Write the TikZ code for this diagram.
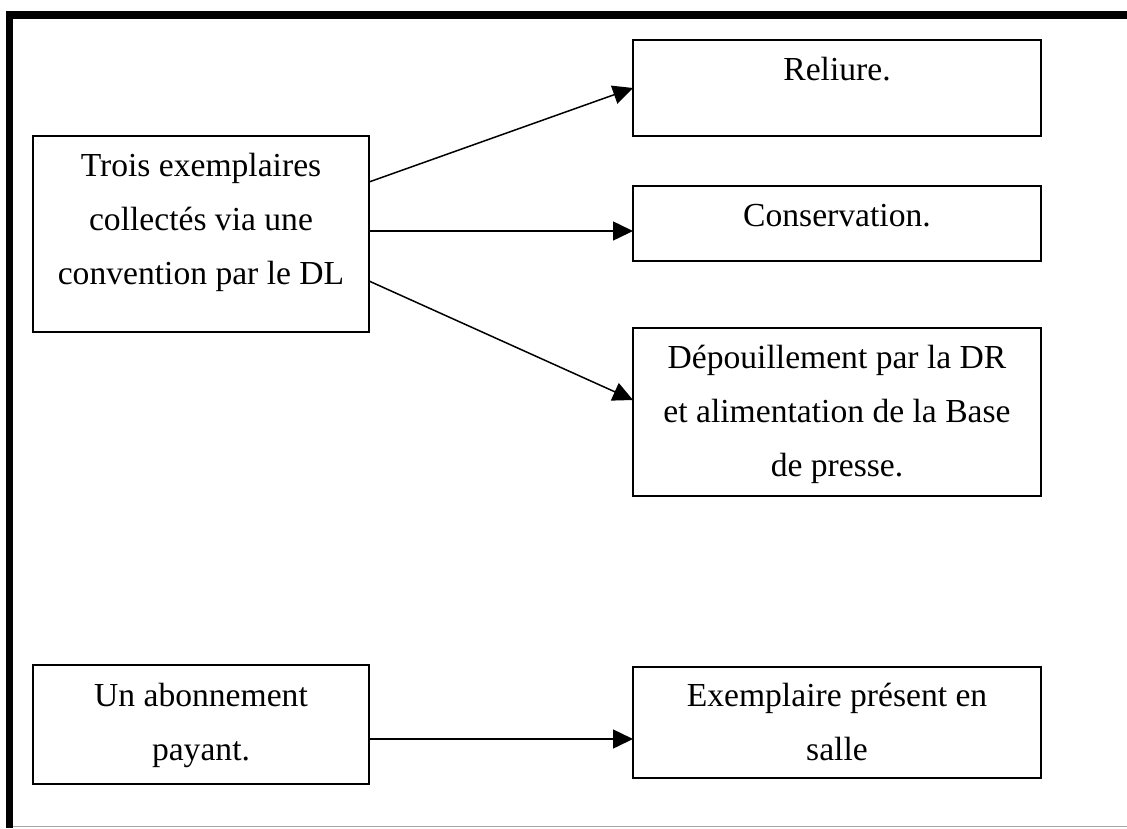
\documentclass[tikz,border=0pt]{standalone}
\usepackage{fontspec}
\setmainfont{Liberation Serif}
\usetikzlibrary{arrows.meta}
\begin{document}
\begin{tikzpicture}[x=1pt,y=-1pt,
  box/.style={draw=black, line width=1.5pt, inner sep=0pt, outer sep=0pt, anchor=north west},
  txt/.style={anchor=base, inner sep=0pt, font=\fontsize{33.6pt}{54pt}\selectfont},
  link/.style={line width=1.5pt, -{Triangle[length=20pt,width=19pt]}}]
\useasboundingbox (0,0) rectangle (1127,828);

% page frame: heavy rules on top and left, thin grey rule at the foot
\fill (6,11) rectangle (1127,19);
\fill (6,11) rectangle (13,828);
\draw[line width=1.5pt, black!35] (13,826.5) -- (1127,826.5);

% boxes
\node[box, minimum width=336pt, minimum height=196pt] (src)  at (33,136) {};
\node[box, minimum width=408pt, minimum height=96pt]  (rel)  at (633,40) {};
\node[box, minimum width=408pt, minimum height=75pt]  (cons) at (633,186) {};
\node[box, minimum width=408pt, minimum height=168pt] (dep)  at (633,328) {};
\node[box, minimum width=336pt, minimum height=119pt] (abo)  at (33,665) {};
\node[box, minimum width=408pt, minimum height=111pt] (sal)  at (633,667) {};

% texts
\node[txt] (tsrc) at (201,176) {\begin{tabular}[t]{@{}c@{}}Trois exemplaires\\collectés via une\\convention par le DL\end{tabular}};
\node[txt] (trel) at (837,80) {Reliure.};
\node[txt] (tcons) at (837,226) {Conservation.};
\node[txt] (tdep) at (837,368) {\begin{tabular}[t]{@{}c@{}}Dépouillement par la DR\\et alimentation de la Base\\de presse.\end{tabular}};
\node[txt] (tabo) at (201,706) {\begin{tabular}[t]{@{}c@{}}Un abonnement\\payant.\end{tabular}};
\node[txt] (tsal) at (837,706) {\begin{tabular}[t]{@{}c@{}}Exemplaire présent en\\salle\end{tabular}};

% connectors
\draw[link] ([yshift=-46pt]src.north east) -- ([yshift=-48pt]rel.north west);
\draw[link] ([yshift=-95pt]src.north east) -- ([yshift=-45pt]cons.north west);
\draw[link] ([yshift=-145pt]src.north east) -- ([yshift=-72pt]dep.north west);
\draw[link] ([yshift=-74pt]abo.north east) -- ([yshift=-72pt]sal.north west);
\end{tikzpicture}
\end{document}
